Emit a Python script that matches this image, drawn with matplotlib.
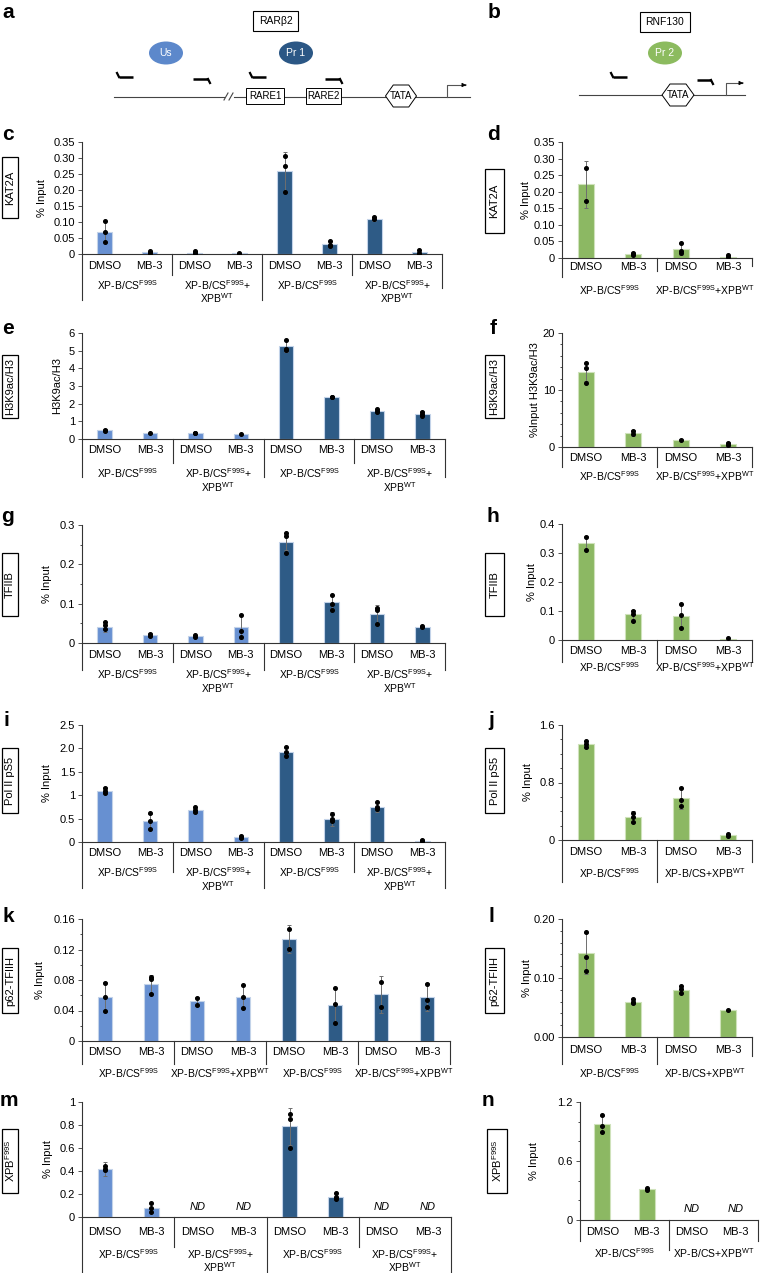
import numpy as np
import matplotlib
matplotlib.use("Agg")
import matplotlib.pyplot as plt
from matplotlib import transforms as mtrans
from matplotlib.patches import Ellipse, Rectangle, Polygon

plt.rcParams['font.family'] = ['Liberation Sans', 'DejaVu Sans']
plt.rcParams['mathtext.fontset'] = 'custom'
plt.rcParams['mathtext.rm'] = 'Liberation Sans'
plt.rcParams['mathtext.it'] = 'Liberation Sans:italic'

W, H = 760, 1273
LIGHT, DARK, GREEN = '#6790d1', '#2e5b86', '#8cb863'

TREAT = ['DMSO', 'MB-3']
F99S = r'XP-B/CS$^{\mathrm{F99S}}$'
F99S_PLUS = r'XP-B/CS$^{\mathrm{F99S}}$+'
F99S_WT = r'XP-B/CS$^{\mathrm{F99S}}$+XPB$^{\mathrm{WT}}$'
CS_WT = r'XP-B/CS+XPB$^{\mathrm{WT}}$'
WT = r'XPB$^{\mathrm{WT}}$'

# ---- data: RARb2 panels (4 light = Us, 4 dark = Pr1), RNF130 panels (Pr2) ----
kat2a_rar = [0.070, 0.005, 0.004, 0.002, 0.258, 0.032, 0.110, 0.006]
kat2a_rar_err = [0.034, 0.004, 0.004, 0.002, 0.060, 0.009, 0.006, 0.008]
kat2a_rar_pts = [[0.103, 0.068, 0.039], [0.009, 0.003, 0.002], [0.008, 0.003, 0.002], [0.003, 0.001],
                 [0.306, 0.276, 0.193], [0.040, 0.029, 0.025], [0.117, 0.108], [0.013, 0.002, 0.001]]
kat2a_rnf = [0.222, 0.012, 0.028, 0.004]
kat2a_rnf_err = [0.070, 0.004, 0.018, 0.006]
kat2a_rnf_pts = [[0.272, 0.172], [0.015, 0.012, 0.009], [0.045, 0.020, 0.015], [0.009, 0.003]]

h3k9_rar = [0.50, 0.33, 0.33, 0.28, 5.25, 2.38, 1.60, 1.42]
h3k9_rar_err = [0.05, 0.03, 0.05, 0.03, 0.35, 0.05, 0.10, 0.15]
h3k9_rar_pts = [[0.52, 0.48], [0.33], [0.36, 0.32], [0.28], [5.62, 5.10, 5.05], [2.40, 2.37],
                [1.68, 1.60, 1.55], [1.55, 1.40, 1.33]]
h3k9_rnf = [13.2, 2.5, 1.2, 0.55]
h3k9_rnf_err = [1.6, 0.5, 0.2, 0.3]
h3k9_rnf_pts = [[14.8, 13.8, 11.2], [2.8, 2.3], [1.2], [0.7, 0.4]]

tfiib_rar = [0.040, 0.020, 0.018, 0.040, 0.258, 0.104, 0.074, 0.041]
tfiib_rar_err = [0.013, 0.005, 0.003, 0.030, 0.022, 0.018, 0.022, 0.002]
tfiib_rar_pts = [[0.053, 0.045, 0.035], [0.024, 0.018], [0.020, 0.014], [0.070, 0.030, 0.015],
                 [0.280, 0.272, 0.228], [0.122, 0.100, 0.085], [0.090, 0.085, 0.048], [0.042, 0.040]]
tfiib_rnf = [0.335, 0.088, 0.082, 0.005]
tfiib_rnf_err = [0.025, 0.015, 0.042, 0.003]
tfiib_rnf_pts = [[0.355, 0.310], [0.100, 0.090, 0.065], [0.125, 0.085, 0.040], [0.006]]

pol2_rar = [1.10, 0.44, 0.68, 0.10, 1.93, 0.50, 0.75, 0.03]
pol2_rar_err = [0.08, 0.15, 0.05, 0.03, 0.10, 0.15, 0.10, 0.02]
pol2_rar_pts = [[1.15, 1.08, 1.05], [0.62, 0.45, 0.28], [0.75, 0.68, 0.65], [0.12, 0.10, 0.09],
                [2.04, 1.92, 1.83], [0.60, 0.50, 0.45], [0.85, 0.75, 0.70], [0.05, 0.03, 0.02]]
pol2_rnf = [1.33, 0.32, 0.58, 0.07]
pol2_rnf_err = [0.05, 0.08, 0.15, 0.02]
pol2_rnf_pts = [[1.38, 1.33, 1.30], [0.38, 0.32, 0.25], [0.72, 0.55, 0.48], [0.08, 0.06]]

p62_rar = [0.058, 0.075, 0.052, 0.058, 0.134, 0.047, 0.061, 0.058]
p62_rar_err = [0.020, 0.012, 0.006, 0.015, 0.018, 0.022, 0.024, 0.018]
p62_rar_pts = [[0.076, 0.058, 0.040], [0.084, 0.081, 0.061], [0.057, 0.047], [0.073, 0.058, 0.043],
               [0.147, 0.121], [0.069, 0.049, 0.024], [0.078, 0.044], [0.075, 0.054, 0.044]]
p62_rnf = [0.142, 0.060, 0.080, 0.045]
p62_rnf_err = [0.035, 0.004, 0.006, 0.001]
p62_rnf_pts = [[0.178, 0.135, 0.112], [0.064, 0.060, 0.058], [0.086, 0.082, 0.075], [0.046]]

xpb_rar = [0.42, 0.08, None, None, 0.79, 0.175, None, None]
xpb_rar_err = [0.06, 0.04, None, None, 0.16, 0.03, None, None]
xpb_rar_pts = [[0.44, 0.42, 0.41], [0.12, 0.08, 0.04], [], [], [0.90, 0.85, 0.60], [0.21, 0.17, 0.16], [], []]
xpb_rnf = [0.98, 0.32, None, None]
xpb_rnf_err = [0.08, 0.01, None, None]
xpb_rnf_pts = [[1.07, 0.96, 0.90], [0.33, 0.31], [], []]

fig = plt.figure(figsize=(W / 100, H / 100), dpi=100)
ov = fig.add_axes([0, 0, 1, 1])
ov.set_xlim(0, W)
ov.set_ylim(H, 0)
ov.axis('off')
ov.set_autoscale_on(False)


def panel(box, vals, errs, pts, colors, ymax, ticks, labels, minor=None, bw=0.32):
    x0, x1, ytop, yzero = box
    ax = fig.add_axes([x0 / W, 1 - yzero / H, (x1 - x0) / W, (yzero - ytop) / H])
    ax.patch.set_visible(False)
    x = np.arange(len(vals))
    v = np.array([np.nan if a is None else a for a in vals], float)
    e = np.array([np.nan if a is None else a for a in errs], float)
    edges = ['#cfe2bb' if c == GREEN else '#c3d3e9' for c in colors]
    ax.bar(x, v, bw, color=colors, edgecolor=edges, lw=0.8, zorder=2)
    ax.errorbar(x, v, yerr=e, fmt='none', ecolor='#6e6e6e', elinewidth=0.7,
                capsize=1.5, capthick=0.7, zorder=3)
    for xi, p in zip(x, pts):
        ax.plot([xi] * len(p), p, 'o', color='black', ms=2.6, zorder=4)
    for xi, vi in zip(x, v):
        if np.isnan(vi):
            ax.text(xi, ymax * 0.09, 'ND', style='italic', ha='center', va='center', fontsize=8)
    ax.set_xlim(-0.5, len(vals) - 0.5)
    ax.set_ylim(0, ymax)
    ax.set_yticks(ticks)
    ax.set_yticklabels(labels, fontsize=8)
    if minor is not None:
        ax.set_yticks(minor, minor=True)
    ax.set_xticks([])
    for s in ['top', 'right']:
        ax.spines[s].set_visible(False)
    for s in ['left', 'bottom']:
        ax.spines[s].set_linewidth(0.8)
        ax.spines[s].set_color('#333333')
    ax.tick_params(axis='y', length=3, width=0.6, pad=2, color='#333333')
    ax.tick_params(axis='y', which='minor', length=1.5, width=0.5)
    return ax


def under(ax, box, cat_y, sep_ends, groups, gy, gy2=None):
    yzero = box[3]
    tr = mtrans.blended_transform_factory(ax.transData, ov.transData)
    n = len(sep_ends) - 1
    for i in range(2 * n):
        ov.text(i, cat_y, TREAT[i % 2], transform=tr, ha='center', va='center', fontsize=8)
    for k, yend in enumerate(sep_ends):
        ov.plot([2 * k - 0.5] * 2, [yzero, yend], transform=tr, color='#333333', lw=0.8, clip_on=False)
    for k, g in enumerate(groups):
        line1, line2 = g
        ov.text(2 * k + 0.5, gy, line1, transform=tr, ha='center', va='center', fontsize=7.5)
        if line2:
            ov.text(2 * k + 0.5, gy2, line2, transform=tr, ha='center', va='center', fontsize=7.5)


def ylab(x, box, text):
    ov.text(x, (box[2] + box[3]) / 2, text, rotation=90, ha='center', va='center', fontsize=8)


def rowbox(x0, x1, y0, y1, text):
    ov.add_patch(Rectangle((x0, y0), x1 - x0, y1 - y0, fill=False, ec='black', lw=0.9))
    ov.text((x0 + x1) / 2, (y0 + y1) / 2, text, rotation=90, ha='center', va='center', fontsize=8)


def letter(x, y, s):
    ov.text(x, y, s, fontsize=15, fontweight='bold', ha='center', va='center')


RAR_COLORS = [LIGHT] * 4 + [DARK] * 4
RNF_COLORS = [GREEN] * 4
G4_2 = [(F99S, ''), (F99S_PLUS, WT), (F99S, ''), (F99S_PLUS, WT)]
G4_1 = [(F99S, ''), (F99S_WT, ''), (F99S, ''), (F99S_WT, '')]

# ---- c / d : KAT2A ----
bc = (82, 442, 142, 254)
ax = panel(bc, kat2a_rar, kat2a_rar_err, kat2a_rar_pts, RAR_COLORS, 0.35,
           np.arange(0, 0.351, 0.05), ['0', '0.05', '0.10', '0.15', '0.20', '0.25', '0.30', '0.35'])
under(ax, bc, 266, [300, 275, 300, 275, 288], G4_2, 285, 298)
ylab(42, bc, '% Input')
bd = (562, 752, 142, 258)
ax = panel(bd, kat2a_rnf, kat2a_rnf_err, kat2a_rnf_pts, RNF_COLORS, 0.35,
           np.arange(0, 0.351, 0.05), ['0', '0.05', '0.10', '0.15', '0.20', '0.25', '0.30', '0.35'], bw=0.34)
under(ax, bd, 267, [277, 271, 266], [(F99S, ''), (F99S_WT, '')], 290)
ylab(526, bd, '% Input')

# ---- e / f : H3K9ac ----
be = (82, 445, 333, 439)
ax = panel(be, h3k9_rar, h3k9_rar_err, h3k9_rar_pts, RAR_COLORS, 6,
           range(0, 7), [str(t) for t in range(0, 7)])
under(ax, be, 450, [477, 463, 477, 463, 477], G4_2, 473, 487)
ylab(57, be, 'H3K9ac/H3')
bf = (562, 752, 333, 447)
ax = panel(bf, h3k9_rnf, h3k9_rnf_err, h3k9_rnf_pts, RNF_COLORS, 20,
           [0, 10, 20], ['0', '10', '20'], minor=np.arange(0, 20.1, 2), bw=0.34)
under(ax, bf, 458, [467, 467, 467], [(F99S, ''), (F99S_WT, '')], 476)
ylab(535, bf, '%Input H3K9ac/H3')

# ---- g / h : TFIIB ----
bg = (82, 445, 525, 643)
ax = panel(bg, tfiib_rar, tfiib_rar_err, tfiib_rar_pts, RAR_COLORS, 0.3,
           [0, 0.1, 0.2, 0.3], ['0', '0.1', '0.2', '0.3'], minor=np.arange(0, 0.31, 0.05))
under(ax, bg, 655, [670, 662, 670, 662, 670], G4_2, 674, 688)
ylab(47, bg, '% Input')
bh = (562, 752, 524, 640)
ax = panel(bh, tfiib_rnf, tfiib_rnf_err, tfiib_rnf_pts, RNF_COLORS, 0.4,
           [0, 0.1, 0.2, 0.3, 0.4], ['0', '0.1', '0.2', '0.3', '0.4'], bw=0.34)
under(ax, bh, 651, [662, 662, 662], [(F99S, ''), (F99S_WT, '')], 667)
ylab(532, bh, '% Input')

# ---- i / j : Pol II pS5 ----
bi = (82, 445, 725, 842)
ax = panel(bi, pol2_rar, pol2_rar_err, pol2_rar_pts, RAR_COLORS, 2.5,
           [0, 0.5, 1, 1.5, 2.0, 2.5], ['0', '0.5', '1', '1.5', '2.0', '2.5'])
under(ax, bi, 853, [888, 872, 888, 872, 888], G4_2, 872, 886)
ylab(47, bi, '% Input')
bj = (562, 752, 725, 840)
ax = panel(bj, pol2_rnf, pol2_rnf_err, pol2_rnf_pts, RNF_COLORS, 1.6,
           [0, 0.8, 1.6], ['0', '0.8', '1.6'], minor=np.arange(0, 1.61, 0.2), bw=0.34)
under(ax, bj, 852, [882, 882, 862], [(F99S, ''), (CS_WT, '')], 873)
ylab(528, bj, '% Input')

# ---- k / l : p62-TFIIH ----
bk = (82, 450, 919, 1041)
ax = panel(bk, p62_rar, p62_rar_err, p62_rar_pts, RAR_COLORS, 0.16,
           [0, 0.04, 0.08, 0.12, 0.16], ['0', '0.04', '0.08', '0.12', '0.16'],
           minor=np.arange(0, 0.161, 0.02))
under(ax, bk, 1052, [1064] * 5, G4_1, 1073)
ylab(40, bk, '% Input')
bl = (562, 752, 919, 1037)
ax = panel(bl, p62_rnf, p62_rnf_err, p62_rnf_pts, RNF_COLORS, 0.2,
           [0, 0.1, 0.2], ['0.00', '0.10', '0.20'], minor=np.arange(0, 0.201, 0.02), bw=0.34)
under(ax, bl, 1050, [1064, 1064, 1056], [(F99S, ''), (CS_WT, '')], 1073)
ylab(527, bl, '% Input')

# ---- m / n : XPB F99S ----
bm = (82, 451, 1102, 1217)
ax = panel(bm, xpb_rar, xpb_rar_err, xpb_rar_pts, RAR_COLORS, 1.0,
           [0, 0.2, 0.4, 0.6, 0.8, 1], ['0', '0.2', '0.4', '0.6', '0.8', '1'])
under(ax, bm, 1232, [1273, 1247, 1273, 1247, 1273], G4_2, 1254, 1267)
ylab(48, bm, '% Input')
bn = (580, 758, 1102, 1220)
ax = panel(bn, xpb_rnf, xpb_rnf_err, xpb_rnf_pts, RNF_COLORS, 1.2,
           [0, 0.6, 1.2], ['0', '0.6', '1.2'], minor=np.arange(0, 1.21, 0.2), bw=0.36)
under(ax, bn, 1232, [1241, 1250, 1241], [(F99S, ''), (CS_WT, '')], 1253)
ylab(534, bn, '% Input')

# ---- row label boxes and panel letters ----
for x0, x1 in [(2, 18), (485, 504)]:
    rowbox(x0, x1, 157 if x0 < 100 else 169, 218 if x0 < 100 else 233, 'KAT2A')
    rowbox(x0, x1, 355, 418, 'H3K9ac/H3')
    rowbox(x0, x1, 553, 616, 'TFIIB')
    rowbox(x0, x1, 748, 813, 'Pol II pS5')
    rowbox(x0, x1, 948, 1013, 'p62-TFIIH')
    rowbox(x0 + (2 if x0 > 100 else 0), x1 + (3 if x0 > 100 else 0), 1129, 1193, r'XPB$^{\mathrm{F99S}}$')

for s, x, y in [('a', 8, 12), ('b', 494, 12), ('c', 8, 135), ('d', 493, 135), ('e', 8, 328),
                ('f', 493, 328), ('g', 8, 516), ('h', 493, 516), ('i', 6, 720), ('j', 491, 720),
                ('k', 8, 916), ('l', 491, 916), ('m', 9, 1101), ('n', 488, 1101)]:
    letter(x, y, s)

# ---- schematics a / b ----
def hexagon(cx, cy, w, h):
    pts = [(cx - w / 2, cy), (cx - w / 4, cy - h / 2), (cx + w / 4, cy - h / 2),
           (cx + w / 2, cy), (cx + w / 4, cy + h / 2), (cx - w / 4, cy + h / 2)]
    ov.add_patch(Polygon(pts, closed=True, fc='white', ec='black', lw=0.7, zorder=3))


def primer(x0, x1, y, fwd):
    ov.plot([x0, x1], [y, y], color='black', lw=1.8, solid_capstyle='butt')
    if fwd:
        ov.plot([x0, x0 - 2], [y, y - 4], color='black', lw=1.6)
    else:
        ov.plot([x1, x1 + 2], [y, y + 4], color='black', lw=1.6)


def tss(x, y, x2, ytop):
    ov.plot([x, x, x2 - 4], [y, ytop, ytop], color='#555555', lw=0.8)
    ov.annotate('', xy=(x2, ytop), xytext=(x2 - 6, ytop),
                arrowprops=dict(arrowstyle='-|>', color='black', lw=0.6, mutation_scale=6))


ov.add_patch(Rectangle((253, 11), 45, 20, fill=False, ec='black', lw=0.8))
ov.text(275.5, 21, 'RARβ2', ha='center', va='center', fontsize=7.5)
ov.add_patch(Rectangle((640, 12), 50, 20, fill=False, ec='black', lw=0.8))
ov.text(665, 22, 'RNF130', ha='center', va='center', fontsize=7.5)
for cx, cy, col, lab in [(166, 53, '#5c88cb', 'Us'), (296, 53, '#2b5785', 'Pr 1'), (665, 53, '#8cbb5f', 'Pr 2')]:
    ov.add_patch(Ellipse((cx, cy), 34, 23, fc=col, ec='none'))
    ov.text(cx, cy, lab, color='white', ha='center', va='center', fontsize=7.5)

primer(119, 133, 77, True)
primer(193, 208, 79, False)
primer(252, 266, 77, True)
primer(325, 340, 79, False)
primer(613, 627, 77, True)
primer(697, 711, 80, False)

ov.plot([114, 224], [97, 97], color='#444444', lw=0.8)
ov.plot([234, 470], [97, 97], color='#444444', lw=0.8)
ov.plot([224, 228], [100, 93], color='#444444', lw=0.8)
ov.plot([229, 233], [100, 93], color='#444444', lw=0.8)
for bx0, bx1, lab in [(246, 284, 'RARE1'), (306, 341, 'RARE2')]:
    ov.add_patch(Rectangle((bx0, 88), bx1 - bx0, 16, fc='white', ec='black', lw=0.7, zorder=3))
    ov.text((bx0 + bx1) / 2, 96, lab, ha='center', va='center', fontsize=7, zorder=4)
hexagon(401, 96, 31, 22)
ov.text(401, 96, 'TATA', ha='center', va='center', fontsize=7, zorder=4)
tss(447, 97, 469, 85)

ov.plot([579, 745], [95, 95], color='#444444', lw=0.8)
hexagon(678, 95, 32, 22)
ov.text(678, 95, 'TATA', ha='center', va='center', fontsize=7, zorder=4)
tss(726, 95, 746, 83)

fig.savefig('out.png', dpi=100)
